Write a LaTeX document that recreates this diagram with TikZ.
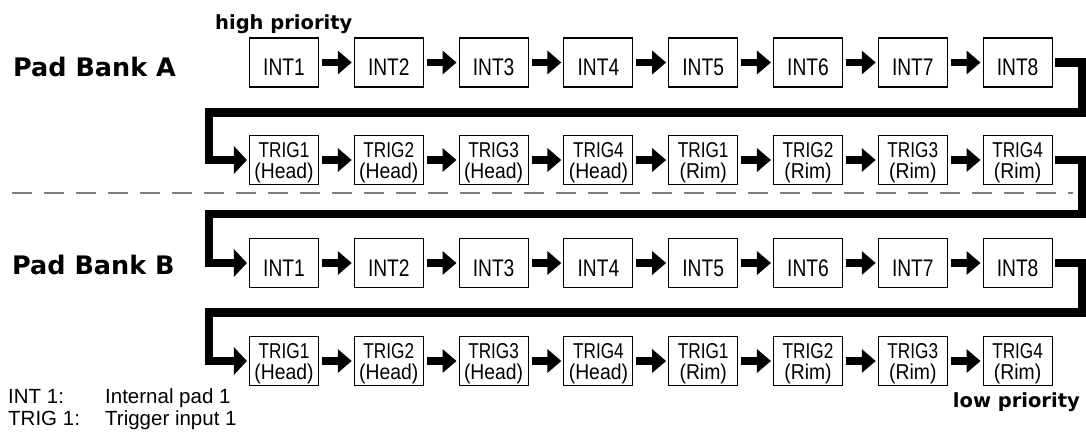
\documentclass[tikz,border=0pt]{standalone}
\usepackage{fontspec}
\usepackage{graphicx}
\setmainfont{Liberation Sans}
\newfontfamily\titlefont{DejaVu Sans}
\usetikzlibrary{arrows.meta}
\tikzset{
  padbox/.style={draw=black, line width=1.1pt, minimum width=69pt, minimum height=49pt,
    inner sep=0pt, align=center},
  intbox/.style={padbox, font=\fontsize{24}{24}\selectfont, text height=26pt, text depth=0pt},
  trigbox/.style={padbox, font=\fontsize{21.5}{21}\selectfont, text height=36pt, text depth=0pt},
  smallarr/.style={line width=7.5pt, -{Triangle[length=14pt,width=23pt]},
    shorten <=3pt, shorten >=2pt},
  bigconn/.style={line width=8.5pt, line join=miter, -{Triangle[length=13pt,width=27pt]},
    shorten <=2.5pt, shorten >=2pt},
  sepline/.style={draw=black!50, line width=1.3pt, dash pattern=on 20pt off 12pt},
  banktext/.style={inner sep=0pt, anchor=base west, font=\titlefont\bfseries\fontsize{25.5}{30}\selectfont},
  priotext/.style={inner sep=0pt, font=\titlefont\bfseries\fontsize{19.5}{24}\selectfont},
  legendtext/.style={inner sep=0pt, anchor=base west, font=\fontsize{20.5}{24}\selectfont}
}
\newcommand{\inttxt}[1]{\scalebox{0.8}[1]{INT#1}}
\newcommand{\trigtxt}[2]{\scalebox{0.8}[1]{#1}\\\scalebox{0.9}[1]{(#2)}}
\begin{document}
\begin{tikzpicture}[x=1pt,y=-1pt]
\useasboundingbox (0,0) rectangle (1086,432);

% separator
\coordinate (sepL) at (12,193);
\coordinate (sepR) at (1073,193);
\draw[sepline] (sepL) -- (sepR);

% INT rows
\foreach \i in {1,...,8}{
  \pgfmathsetmacro{\cx}{284+104.8*(\i-1)}
  \node[intbox] (a\i) at (\cx,62.5) {\inttxt{\i}};
  \node[intbox] (c\i) at (\cx,263) {\inttxt{\i}};
}
% TRIG rows
\foreach \i/\t/\p in {1/TRIG1/Head,2/TRIG2/Head,3/TRIG3/Head,4/TRIG4/Head,
                      5/TRIG1/Rim,6/TRIG2/Rim,7/TRIG3/Rim,8/TRIG4/Rim}{
  \pgfmathsetmacro{\cx}{284+104.8*(\i-1)}
  \node[trigbox] (b\i) at (\cx,160) {\trigtxt{\t}{\p}};
  \node[trigbox] (d\i) at (\cx,361) {\trigtxt{\t}{\p}};
}
% small arrows
\foreach \r in {a,b,c,d}{
  \foreach \i [evaluate=\i as \j using int(\i+1)] in {1,...,7}{
    \draw[smallarr] (\r\i.east) -- (\r\j.west);
  }
}
% turn-around coordinates
\coordinate (R1) at (1082,112.5);
\coordinate (L1) at (209,112.5);
\coordinate (R2) at (1082,214);
\coordinate (L2) at (209,214);
\coordinate (R3) at (1082,312.5);
\coordinate (L3) at (209,312.5);

\draw[bigconn] (a8.east) -| (R1) -- (L1) |- (b1.west);
\draw[bigconn] (b8.east) -| (R2) -- (L2) |- (c1.west);
\draw[bigconn] (c8.east) -| (R3) -- (L3) |- (d1.west);

% labels
\node[banktext] (bankA) at (13,76) {Pad Bank A};
\node[banktext] (bankB) at (12,274) {Pad Bank B};
\node[priotext, anchor=base west] (hp) at (215,29) {high priority};
\node[priotext, anchor=base east] (lp) at (1080,407) {low priority};

\node[legendtext] (l1a) at (8,403) {INT 1:};
\node[legendtext] (l1b) at (105,403) {Internal pad 1};
\node[legendtext] (l2a) at (8,425) {TRIG 1:};
\node[legendtext] (l2b) at (105,425) {Trigger input 1};
\end{tikzpicture}
\end{document}
